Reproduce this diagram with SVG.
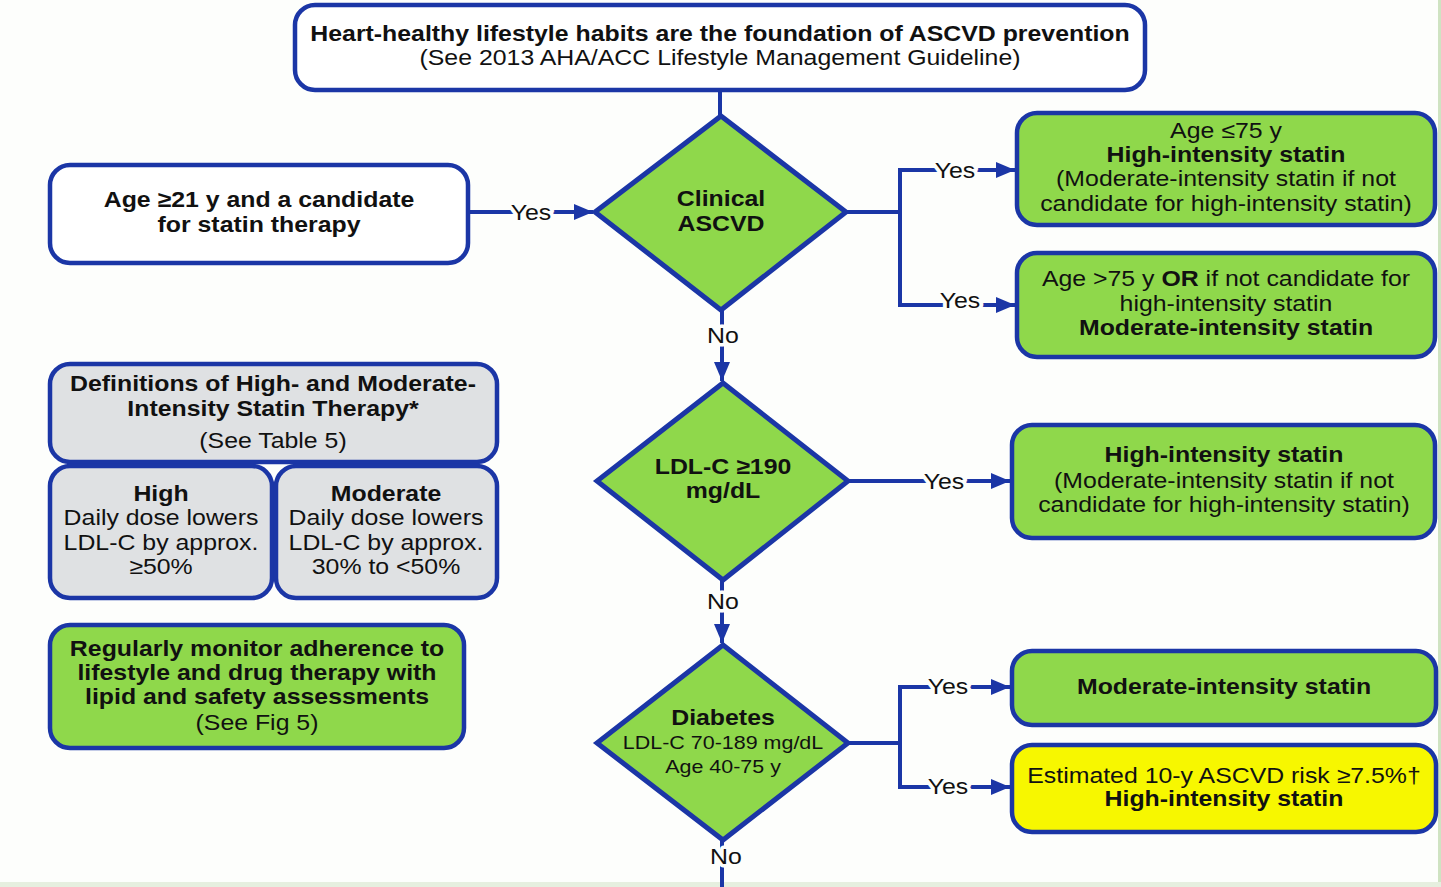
<svg xmlns="http://www.w3.org/2000/svg" width="1441" height="887" viewBox="0 0 1441 887">
<defs>
<style>
.box{stroke:#1b36a6;stroke-width:4.5}
.w{fill:#ffffff}
.g{fill:#8fd84b}
.gr{fill:#dfe1e3}
.y{fill:#f7f700}
.dia{fill:#8fd84b;stroke:#1b36a6;stroke-width:5;stroke-linejoin:miter}
.c{fill:none;stroke:#1b36a6;stroke-width:4}
text{font-family:"Liberation Sans",Arial,sans-serif;fill:#111;text-anchor:middle;font-size:22px}
.b{font-weight:bold}
.s{font-size:19px}
.lbl{paint-order:stroke;stroke:#fdfefc;stroke-width:7px;stroke-linejoin:round}
</style>
<marker id="ah" markerUnits="userSpaceOnUse" markerWidth="20" markerHeight="20" viewBox="0 0 20 20" refX="19" refY="10" orient="auto">
<path d="M0,2 L19,10 L0,18 Z" fill="#1b36a6"/>
</marker>
</defs>
<rect x="0" y="0" width="1441" height="887" fill="#fdfefc"/>
<rect x="1438" y="0" width="3" height="887" fill="#cfe3c2"/>
<rect x="0" y="882" width="1441" height="5" fill="#e6efdf"/>

<g id="connectors">
<path class="c" d="M720,90 V116"/>
<path class="c" d="M468,212 H593" marker-end="url(#ah)"/>
<path class="c" d="M846,212 H900 M900,170 V305"/>
<path class="c" d="M898,170 H1015" marker-end="url(#ah)"/>
<path class="c" d="M898,305 H1015" marker-end="url(#ah)"/>
<path class="c" d="M722,310 V381" marker-end="url(#ah)"/>
<path class="c" d="M848,481 H1010" marker-end="url(#ah)"/>
<path class="c" d="M722,580 V643" marker-end="url(#ah)"/>
<path class="c" d="M848,743 H900 M900,687 V787"/>
<path class="c" d="M898,687 H1010" marker-end="url(#ah)"/>
<path class="c" d="M898,787 H1010" marker-end="url(#ah)"/>
<path class="c" d="M722,840 V887"/>
<text class="lbl" x="0" y="220" transform="matrix(1.13 0 0 1 531 0)">Yes</text>
<text class="lbl" x="0" y="178" transform="matrix(1.13 0 0 1 955 0)">Yes</text>
<text class="lbl" x="0" y="308" transform="matrix(1.13 0 0 1 960 0)">Yes</text>
<text class="lbl" x="0" y="343" transform="matrix(1.13 0 0 1 723 0)">No</text>
<text class="lbl" x="0" y="489" transform="matrix(1.13 0 0 1 944 0)">Yes</text>
<text class="lbl" x="0" y="609" transform="matrix(1.13 0 0 1 723 0)">No</text>
<text class="lbl" x="0" y="694" transform="matrix(1.13 0 0 1 948 0)">Yes</text>
<text class="lbl" x="0" y="794" transform="matrix(1.13 0 0 1 948 0)">Yes</text>
<text class="lbl" x="0" y="864" transform="matrix(1.13 0 0 1 726 0)">No</text>
</g>

<g id="top">
<rect class="box w" x="295" y="5" width="850" height="85" rx="20"/>
<text class="b" x="0" y="41" transform="matrix(1.13 0 0 1 720 0)">Heart-healthy lifestyle habits are the foundation of ASCVD prevention</text>
<text x="0" y="65" transform="matrix(1.13 0 0 1 720 0)">(See 2013 AHA/ACC Lifestyle Management Guideline)</text>
</g>

<g id="age21">
<rect class="box w" x="50" y="165" width="418" height="98" rx="20"/>
<text class="b" x="0" y="207" transform="matrix(1.13 0 0 1 259 0)">Age ≥21 y and a candidate</text>
<text class="b" x="0" y="232" transform="matrix(1.13 0 0 1 259 0)">for statin therapy</text>
</g>

<g id="clinical">
<polygon class="dia" points="721,116 846,212 721,310 595,212"/>
<text class="b" x="0" y="206" transform="matrix(1.13 0 0 1 721 0)">Clinical</text>
<text class="b" x="0" y="231" transform="matrix(1.13 0 0 1 721 0)">ASCVD</text>
</g>

<g id="r1">
<rect class="box g" x="1017" y="113" width="418" height="112" rx="20"/>
<text x="0" y="138" transform="matrix(1.13 0 0 1 1226 0)">Age ≤75 y</text>
<text class="b" x="0" y="162" transform="matrix(1.13 0 0 1 1226 0)">High-intensity statin</text>
<text x="0" y="186" transform="matrix(1.13 0 0 1 1226 0)">(Moderate-intensity statin if not</text>
<text x="0" y="211" transform="matrix(1.13 0 0 1 1226 0)">candidate for high-intensity statin)</text>
</g>

<g id="r2">
<rect class="box g" x="1017" y="253" width="418" height="104" rx="20"/>
<text x="0" y="286" transform="matrix(1.13 0 0 1 1226 0)">Age &gt;75 y <tspan class="b">OR</tspan> if not candidate for</text>
<text x="0" y="311" transform="matrix(1.13 0 0 1 1226 0)">high-intensity statin</text>
<text class="b" x="0" y="335" transform="matrix(1.13 0 0 1 1226 0)">Moderate-intensity statin</text>
</g>

<g id="defs">
<rect class="box gr" x="50" y="364" width="447" height="98" rx="20"/>
<text class="b" x="0" y="391" transform="matrix(1.13 0 0 1 273 0)">Definitions of High- and Moderate-</text>
<text class="b" x="0" y="416" transform="matrix(1.13 0 0 1 273 0)">Intensity Statin Therapy*</text>
<text x="0" y="448" transform="matrix(1.13 0 0 1 273 0)">(See Table 5)</text>
</g>
<g id="high">
<rect class="box gr" x="50" y="466" width="222" height="132" rx="20"/>
<text class="b" x="0" y="501" transform="matrix(1.13 0 0 1 161 0)">High</text>
<text x="0" y="525" transform="matrix(1.13 0 0 1 161 0)">Daily dose lowers</text>
<text x="0" y="550" transform="matrix(1.13 0 0 1 161 0)">LDL-C by approx.</text>
<text x="0" y="574" transform="matrix(1.13 0 0 1 161 0)">≥50%</text>
</g>
<g id="moderate">
<rect class="box gr" x="276" y="466" width="221" height="132" rx="20"/>
<text class="b" x="0" y="501" transform="matrix(1.13 0 0 1 386 0)">Moderate</text>
<text x="0" y="525" transform="matrix(1.13 0 0 1 386 0)">Daily dose lowers</text>
<text x="0" y="550" transform="matrix(1.13 0 0 1 386 0)">LDL-C by approx.</text>
<text x="0" y="574" transform="matrix(1.13 0 0 1 386 0)">30% to &lt;50%</text>
</g>

<g id="ldl">
<polygon class="dia" points="723,383 848,481 723,580 597,481"/>
<text class="b" x="0" y="474" transform="matrix(1.13 0 0 1 723 0)">LDL-C ≥190</text>
<text class="b" x="0" y="498" transform="matrix(1.13 0 0 1 723 0)">mg/dL</text>
</g>

<g id="r3">
<rect class="box g" x="1012" y="425" width="423" height="113" rx="20"/>
<text class="b" x="0" y="462" transform="matrix(1.13 0 0 1 1224 0)">High-intensity statin</text>
<text x="0" y="488" transform="matrix(1.13 0 0 1 1224 0)">(Moderate-intensity statin if not</text>
<text x="0" y="512" transform="matrix(1.13 0 0 1 1224 0)">candidate for high-intensity statin)</text>
</g>

<g id="monitor">
<rect class="box g" x="50" y="625" width="414" height="123" rx="20"/>
<text class="b" x="0" y="656" transform="matrix(1.13 0 0 1 257 0)">Regularly monitor adherence to</text>
<text class="b" x="0" y="680" transform="matrix(1.13 0 0 1 257 0)">lifestyle and drug therapy with</text>
<text class="b" x="0" y="704" transform="matrix(1.13 0 0 1 257 0)">lipid and safety assessments</text>
<text x="0" y="730" transform="matrix(1.13 0 0 1 257 0)">(See Fig 5)</text>
</g>

<g id="diabetes">
<polygon class="dia" points="723,645 848,743 723,840 597,743"/>
<text class="b" x="0" y="725" transform="matrix(1.13 0 0 1 723 0)">Diabetes</text>
<text class="s" x="0" y="749" transform="matrix(1.13 0 0 1 723 0)">LDL-C 70-189 mg/dL</text>
<text class="s" x="0" y="773" transform="matrix(1.13 0 0 1 723 0)">Age 40-75 y</text>
</g>

<g id="r4">
<rect class="box g" x="1012" y="651" width="424" height="74" rx="20"/>
<text class="b" x="0" y="694" transform="matrix(1.13 0 0 1 1224 0)">Moderate-intensity statin</text>
</g>

<g id="r5">
<rect class="box y" x="1012" y="745" width="424" height="87" rx="20"/>
<text x="0" y="783" transform="matrix(1.13 0 0 1 1224 0)">Estimated 10-y ASCVD risk ≥7.5%†</text>
<text class="b" x="0" y="806" transform="matrix(1.13 0 0 1 1224 0)">High-intensity statin</text>
</g>
</svg>
